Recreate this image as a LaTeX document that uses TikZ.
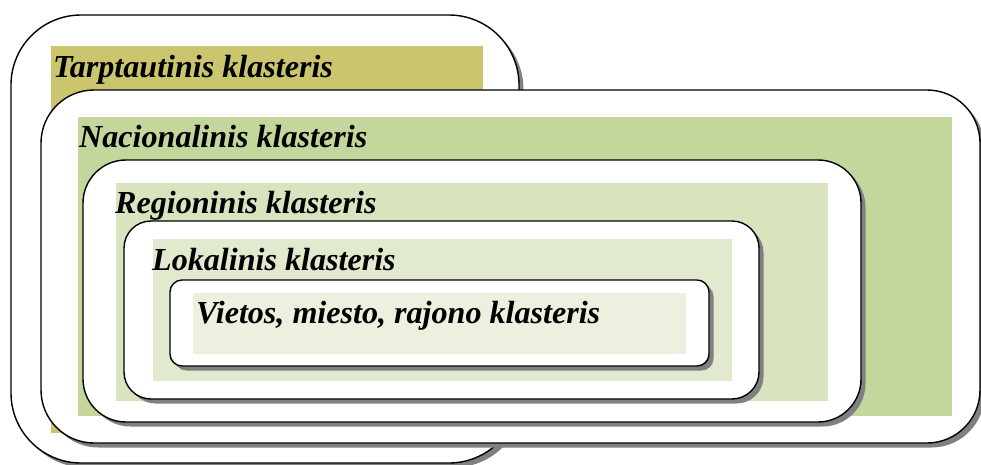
\documentclass[tikz,border=0pt]{standalone}
\usepackage{fontspec}
\setmainfont{Liberation Serif}
\usetikzlibrary{shadows}
\definecolor{olivebox}{HTML}{CBC66E}
\definecolor{greenA}{HTML}{C3D69B}
\definecolor{greenB}{HTML}{D7E4BD}
\definecolor{greenC}{HTML}{E1EACF}
\definecolor{greenD}{HTML}{EBF1DE}
\tikzset{
  frame/.style={draw=black, line width=1.4pt, fill=white, inner sep=0pt, outer sep=0pt,
    drop shadow={shadow xshift=4.5pt, shadow yshift=-4.5pt, fill=black!50, opacity=1}},
  panel/.style={inner sep=0pt, outer sep=0pt, draw=none},
  label/.style={anchor=base west, inner sep=0pt, font=\fontsize{32.1}{37}\selectfont\bfseries\itshape}
}
\begin{document}
\begin{tikzpicture}[x=1pt,y=-1pt]
\useasboundingbox (0,0) rectangle (981,464);
% level 1
\node[frame, rounded corners=70pt, minimum width=508pt, minimum height=448pt] (b1) at (265,239) {};
\node[panel, fill=olivebox, minimum width=432pt, minimum height=387pt] (r1) at (267,239.5) {};
\node[label] (t1) at (53,77) {Tarptautinis klasteris};
% level 2
\node[frame, rounded corners=53pt, minimum width=939pt, minimum height=353pt] (b2) at (510.5,266.5) {};
\node[panel, fill=greenA, minimum width=874pt, minimum height=299pt] (r2) at (515,266.5) {};
\node[label] (t2) at (79,147) {Nacionalinis klasteris};
% level 3
\node[frame, rounded corners=43pt, minimum width=778pt, minimum height=262pt] (b3) at (472,291) {};
\node[panel, fill=greenB, minimum width=712pt, minimum height=218pt] (r3) at (472,292) {};
\node[label] (t3) at (115,213) {Regioninis klasteris};
% level 4
\node[frame, rounded corners=27pt, minimum width=635pt, minimum height=178pt] (b4) at (441.5,310) {};
\node[panel, fill=greenC, minimum width=579pt, minimum height=142pt] (r4) at (442.5,310) {};
\node[label] (t4) at (152,270) {Lokalinis klasteris};
% level 5
\node[frame, rounded corners=12pt, minimum width=539pt, minimum height=86pt] (b5) at (439.5,323) {};
\node[panel, fill=greenD, minimum width=493pt, minimum height=61pt] (r5) at (439.5,323.5) {};
\node[label] (t5) at (196,323) {Vietos, miesto, rajono klasteris};
\end{tikzpicture}
\end{document}
